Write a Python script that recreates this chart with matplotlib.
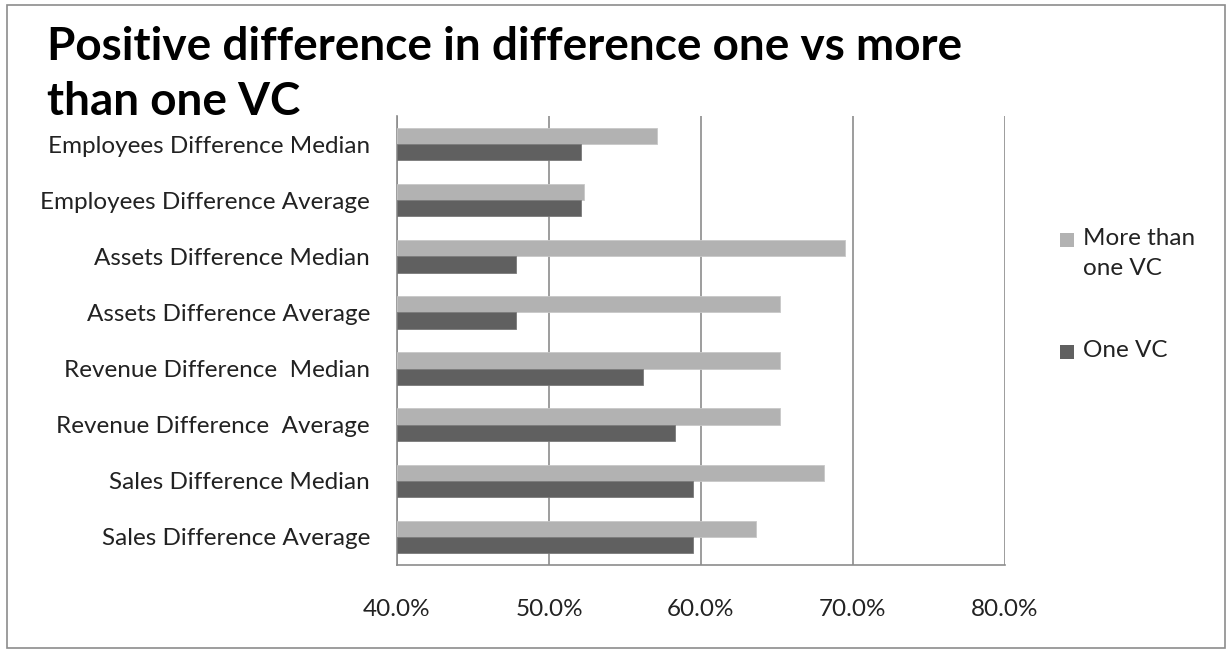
import matplotlib
matplotlib.use("Agg")
import matplotlib.pyplot as plt
from matplotlib.patches import Rectangle
from matplotlib.ticker import FuncFormatter
import numpy as np

# Categories listed bottom to top
categories = [
    "Sales Difference Average",
    "Sales Difference Median",
    "Revenue Difference  Average",
    "Revenue Difference  Median",
    "Assets Difference Average",
    "Assets Difference Median",
    "Employees Difference Average",
    "Employees Difference Median",
]
more_than_one_vc = [63.6, 68.1, 65.2, 65.2, 65.2, 69.5, 52.3, 57.1]
one_vc = [59.5, 59.5, 58.3, 56.2, 47.8, 47.8, 52.1, 52.1]
series_names = ["More than\none VC", "One VC"]
x_ticks = [40, 50, 60, 70, 80]

LIGHT = "#b2b2b2"
DARK = "#606060"
GRID = "#8c8c8c"
FONT = "Lato"
FS = 17.5

W, H = 1232, 653
fig = plt.figure(figsize=(W / 100, H / 100), dpi=100)

# Outer chart border
fig.patches.append(Rectangle((7 / W, 5 / H), (1225 - 7) / W, (648 - 5) / H,
                             transform=fig.transFigure, fill=False,
                             edgecolor="#8c8c8c", linewidth=1.2))

ax = fig.add_axes([397 / W, 1 - 565 / H, (1005 - 397) / W, (565 - 116) / H])

y = np.arange(len(categories))
bh = 0.29
ax.barh(y + bh / 2, np.array(more_than_one_vc) - 40, left=40, height=bh,
        color=LIGHT, edgecolor="#c8c8c8", linewidth=0.6, zorder=3)
ax.barh(y - bh / 2, np.array(one_vc) - 40, left=40, height=bh,
        color=DARK, edgecolor="#7a7a7a", linewidth=0.6, zorder=3)

ax.set_xlim(40, 80)
ax.set_ylim(-0.5, len(categories) - 0.5)
ax.set_xticks(x_ticks)
ax.xaxis.set_major_formatter(FuncFormatter(lambda v, p: f"{v:.1f}%"))
ax.set_yticks(y)
ax.set_yticklabels(categories)
ax.tick_params(axis="both", length=0, labelsize=FS, colors="#222222")
ax.tick_params(axis="x", pad=24.5)
ax.tick_params(axis="y", pad=19.5)
for lbl in ax.get_xticklabels() + ax.get_yticklabels():
    lbl.set_fontfamily(FONT)

ax.grid(axis="x", color=GRID, linewidth=1.2, zorder=0)
for side in ["top", "right"]:
    ax.spines[side].set_visible(False)
for side in ["left", "bottom"]:
    ax.spines[side].set_color(GRID)
    ax.spines[side].set_linewidth(1.2)

fig.text(47 / W, 1 - 47 / H, "Positive difference in difference one vs more",
         fontsize=33, fontweight="bold", family=FONT, va="center", ha="left")
fig.text(47 / W, 1 - 102 / H, "than one VC",
         fontsize=33, fontweight="bold", family=FONT, va="center", ha="left")

# Legend: square swatch aligned with the first line of each entry
legend_rows = [(240, LIGHT, series_names[0]), (352, DARK, series_names[1])]
for ypix, color, name in legend_rows:
    fig.patches.append(Rectangle((1060 / W, 1 - (ypix + 7) / H), 14 / W, 14 / H,
                                 transform=fig.transFigure, facecolor=color,
                                 edgecolor="none"))
    fig.text(1083 / W, 1 - (ypix - 12) / H, name, fontsize=FS, family=FONT,
             color="#222222", va="top", ha="left", linespacing=1.55)

fig.savefig("out.png", dpi=100)
